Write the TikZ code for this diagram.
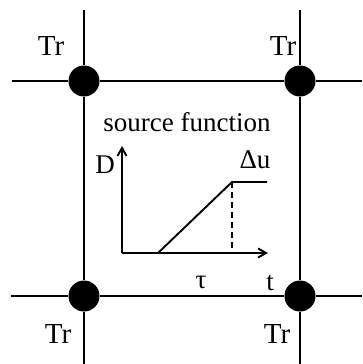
\documentclass[tikz,border=0pt]{standalone}
\usepackage{fontspec}
\setmainfont{Liberation Serif}
\usetikzlibrary{arrows.meta}

\begin{document}
\begin{tikzpicture}[
    x=1pt,y=-1pt,
    gridline/.style={line width=1.6pt},
    site/.style={circle,fill=black,minimum size=31pt,inner sep=0pt},
    lbl/.style={font=\fontsize{27}{30}\selectfont,inner sep=0pt},
    tr/.style={font=\fontsize{29}{32}\selectfont,inner sep=0pt},
    axis/.style={line width=1.9pt,-{Straight Barb[length=8pt,width=9pt]}},
    ramp/.style={line width=1.9pt},
    guide/.style={line width=1.4pt,dash pattern=on 6pt off 4pt}
]
\useasboundingbox (0,0) rectangle (362,364);

% grid nodes
\node[site] (nw) at (84,81) {};
\node[site] (ne) at (300,81) {};
\node[site] (sw) at (84,296) {};
\node[site] (se) at (300,296) {};

% ends of grid lines
\coordinate (nwtop) at (84,10);
\coordinate (netop) at (300,10);
\coordinate (swbot) at (84,364);
\coordinate (sebot) at (300,364);
\coordinate (nwleft) at (12,81);
\coordinate (neright) at (362,81);
\coordinate (swleft) at (11,296);
\coordinate (seright) at (362,296);

\draw[gridline] (nwtop) -- (nw) -- (sw) -- (swbot);
\draw[gridline] (netop) -- (ne) -- (se) -- (sebot);
\draw[gridline] (nwleft) -- (nw) -- (ne) -- (neright);
\draw[gridline] (swleft) -- (sw) -- (se) -- (seright);

\node[tr] (trnw) at (51,46) {Tr};
\node[tr] (trne) at (283,46) {Tr};
\node[tr] (trsw) at (58,334) {Tr};
\node[tr] (trse) at (277,334) {Tr};

% source function plot
\node[lbl] (title) at (187,122) {source function};
\coordinate (origin) at (122,253);
\coordinate (ytip) at (122,146);
\coordinate (xtip) at (268,253);
\coordinate (onset) at (158,253);
\coordinate (knee) at (232,182);
\coordinate (kneefoot) at (232,253);
\coordinate (plateau) at (267,182);

\draw[axis] (origin) -- (ytip);
\draw[axis] (origin) -- (xtip);
\draw[ramp] (origin) -- (onset) -- (knee) -- (plateau);
\draw[guide] (knee) -- (kneefoot);

\node[lbl] (dlabel) at (105,165) {D};
\node[lbl] (dulabel) at (255,160) {Δu};
\node[lbl] (taulabel) at (201,282) {τ};
\node[lbl] (tlabel) at (270,283) {t};
\end{tikzpicture}
\end{document}
